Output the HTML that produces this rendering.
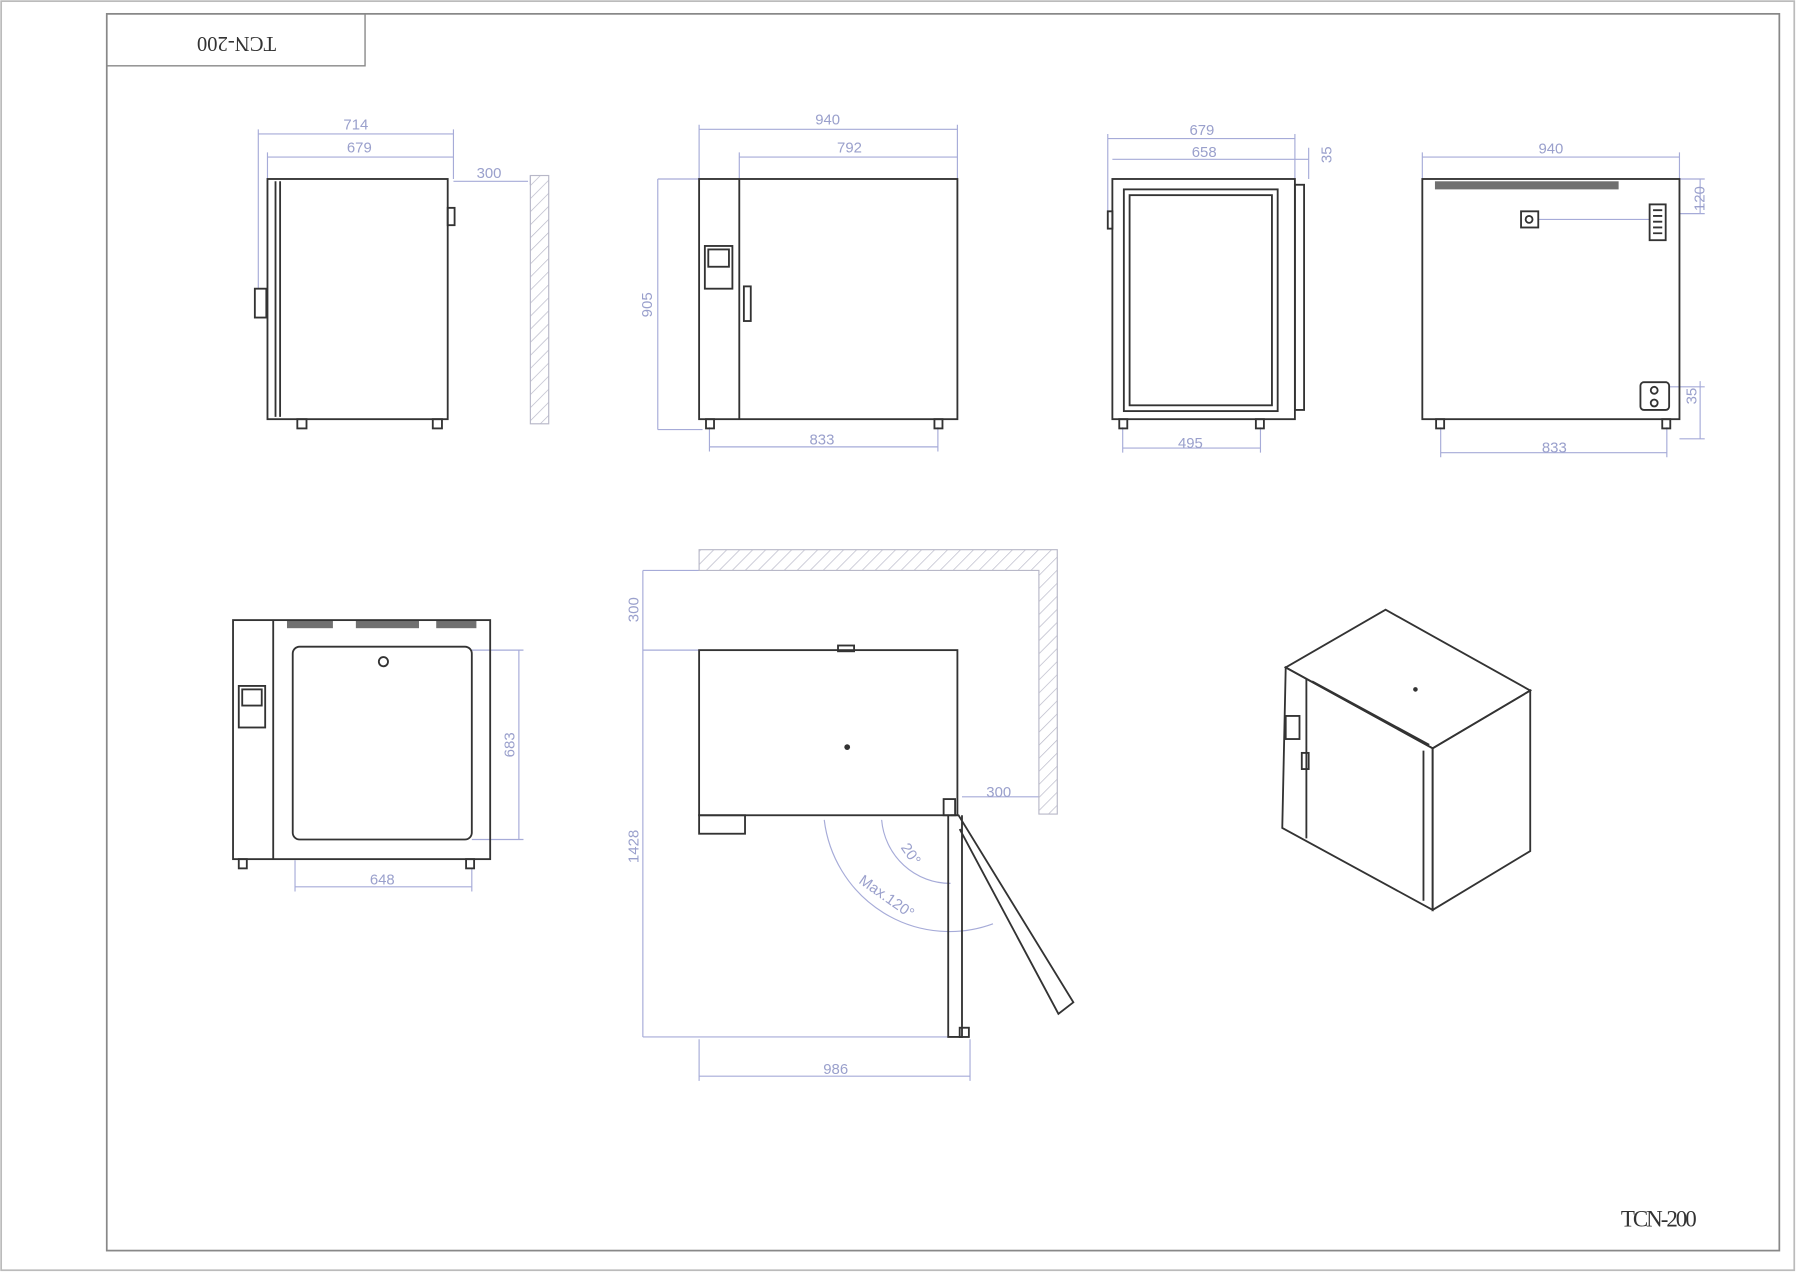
<!DOCTYPE html>
<html><head><meta charset="utf-8"><style>html,body{margin:0;padding:0;background:#fff}svg{display:block}</style></head>
<body>
<svg width="1800" height="1276" viewBox="0 0 1568 1105" preserveAspectRatio="none" xmlns="http://www.w3.org/2000/svg" font-family="Liberation Sans, sans-serif">
<defs>
<pattern id="h" width="8" height="8" patternUnits="userSpaceOnUse" patternTransform="rotate(45)"><line x1="0" y1="0" x2="0" y2="8" stroke="#b8b8c8" stroke-width="1.2"/></pattern>
</defs>
<rect x="1" y="1" width="1562" height="1099" fill="none" stroke="#bbb" stroke-width="1.5"/>
<rect x="93" y="12" width="1457" height="1071" fill="none" stroke="#888" stroke-width="1.5"/>
<rect x="93" y="12" width="225" height="45" fill="none" stroke="#888" stroke-width="1.2"/>
<text x="0" y="0" transform="translate(206,36) rotate(180)" font-family="Liberation Serif, serif" font-size="18" text-anchor="middle" dominant-baseline="middle" fill="#333">TCN-200</text>
<text x="1412" y="1062" font-family="Liberation Serif, serif" font-size="20" fill="#333" textLength="66">TCN-200</text>

<g stroke="#a6abd8" stroke-width="1" fill="none">
<!-- view1 dims -->
<path d="M225 116H395M233 136H395M395 157H460M225 112V250M233 132V155M395 112V155M462 152V160"/>
<!-- view2 -->
<path d="M609 112H834M644 136H834M573 155V372M573 155H609M618 387H817M609 108V155M834 108V155M644 132V155M618 370V391M817 370V391M573 372H612"/>
<!-- view3 -->
<path d="M965 120H1128M969 138H1140M978 388H1098M965 116V185M1128 116V155M1140 128V155M978 370V392M1098 370V392"/>
<!-- view4 -->
<path d="M1239 136H1463M1239 132V155M1463 132V155M1481 155V185M1463 155H1485M1463 185H1485M1340 190H1437M1481 330V380M1454 335H1485M1463 380H1485M1255 392H1452M1255 370V396M1452 370V396"/>
<!-- view5 -->
<path d="M452 563V727M411 563H456M411 727H456M257 768H411M257 745V772M411 752V772"/>
<!-- view6 -->
<path d="M560 494V898M560 494H609M560 563H609M560 898H828M609 900V936M845 900V936M609 932H845M838 690H905"/>
<path d="M718 710A110 110 0 0 0 865 800M768 710A60 60 0 0 0 828 765"/>
</g>
<g fill="#9aa0cc" font-size="13" text-anchor="middle">
<text x="310" y="112">714</text><text x="313" y="132">679</text><text x="426" y="154">300</text>
<text x="721" y="108">940</text><text x="740" y="132">792</text><text x="716" y="385">833</text>
<text transform="translate(568,264) rotate(-90)">905</text>
<text x="1047" y="117">679</text><text x="1049" y="136">658</text><text transform="translate(1160,134) rotate(-90)">35</text>
<text x="1037" y="388">495</text>
<text x="1351" y="133">940</text><text transform="translate(1485,172) rotate(-90)">120</text><text transform="translate(1478,343) rotate(-90)">35</text>
<text x="1354" y="392">833</text>
<text transform="translate(448,645) rotate(-90)">683</text><text x="333" y="766">648</text>
<text transform="translate(556,528) rotate(-90)">300</text><text transform="translate(556,733) rotate(-90)">1428</text>
<text x="728" y="930">986</text><text x="870" y="690">300</text>
<text transform="translate(790,742) rotate(55)">20°</text>
<text transform="translate(770,780) rotate(35)">Max.120°</text>
</g>
<!-- walls -->
<rect x="462" y="152" width="16" height="215" fill="url(#h)" stroke="#b8b8c8"/>
<path d="M609 476H921V705H905V494H609Z" fill="url(#h)" stroke="#b8b8c8"/>

<g stroke="#333" stroke-width="1.6" fill="none">
<!-- view1 -->
<rect x="233" y="155" width="157" height="208"/>
<path d="M244 157V361M240 157V361"/>
<rect x="222" y="250" width="10" height="25"/>
<rect x="390" y="180" width="6" height="15"/>
<rect x="259" y="363" width="8" height="8"/><rect x="377" y="363" width="8" height="8"/>
<!-- view2 -->
<rect x="609" y="155" width="225" height="208"/>
<path d="M644 155V363"/>
<rect x="614" y="213" width="24" height="37"/><rect x="617" y="216" width="18" height="15"/>
<rect x="648" y="248" width="6" height="30"/>
<rect x="615" y="363" width="7" height="8"/><rect x="814" y="363" width="7" height="8"/>
<!-- view3 -->
<rect x="969" y="155" width="159" height="208"/>
<rect x="979" y="164" width="134" height="192"/>
<rect x="984" y="169" width="124" height="182"/>
<rect x="1128" y="160" width="8" height="195"/>
<rect x="965" y="183" width="4" height="15"/>
<rect x="975" y="363" width="7" height="8"/><rect x="1094" y="363" width="7" height="8"/>
<!-- view4 -->
<rect x="1239" y="155" width="224" height="208"/>
<rect x="1325" y="183" width="15" height="14"/><circle cx="1332" cy="190" r="3"/>
<rect x="1437" y="177" width="14" height="31"/>
<path d="M1440 182H1448M1440 187H1448M1440 192H1448M1440 197H1448M1440 202H1448"/>
<rect x="1429" y="331" width="25" height="24" rx="3"/><circle cx="1441" cy="338" r="3"/><circle cx="1441" cy="349" r="3"/>
<rect x="1251" y="363" width="7" height="8"/><rect x="1448" y="363" width="7" height="8"/>
<!-- view5 -->
<rect x="203" y="537" width="224" height="207"/>
<path d="M238 537V744"/>
<rect x="255" y="560" width="156" height="167" rx="6"/>
<rect x="208" y="594" width="23" height="36"/><rect x="211" y="597" width="17" height="14"/>
<circle cx="334" cy="573" r="4"/>
<rect x="208" y="744" width="7" height="8"/><rect x="406" y="744" width="7" height="8"/>
<!-- view6 -->
<rect x="609" y="563" width="225" height="143"/>
<rect x="730" y="559" width="14" height="5"/>
<rect x="609" y="706" width="40" height="16"/>
<rect x="822" y="692" width="10" height="14"/>
<path d="M826 706V898H838V706M828 706L835 706L935 868L922 878L836 718"/>
<rect x="836" y="890" width="8" height="8"/>
<!-- iso -->
<path d="M1120 578L1207 528L1333 598L1248 648Z"/>
<path d="M1120 578L1248 648V788L1117 717Z"/>
<path d="M1248 648L1333 598V737L1248 788Z"/>
<path d="M1138 588L1138 726M1143 590L1245 645M1240 650V780"/>
<rect x="1120" y="620" width="12" height="20"/>
<rect x="1134" y="652" width="6" height="14"/>
</g>
<g fill="#333">
<circle cx="738" cy="647" r="2.5"/><circle cx="1233" cy="597" r="2"/>
<rect x="1250" y="157" width="160" height="7" opacity=".7"/>
<rect x="250" y="537" width="40" height="7" opacity=".7"/><rect x="310" y="537" width="55" height="7" opacity=".7"/><rect x="380" y="537" width="35" height="7" opacity=".7"/>
</g>
</svg>
</body></html>
